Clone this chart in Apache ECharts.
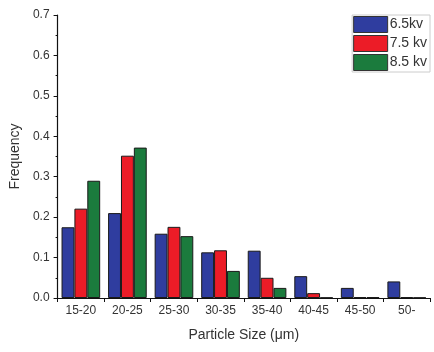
<!DOCTYPE html>
<html>
<head>
<meta charset="utf-8">
<script src="https://cdn.jsdelivr.net/npm/echarts@6/dist/echarts.min.js"></script>
<style>
html, body { margin: 0; padding: 0; background: #fff; }
#chart { width: 434px; height: 352px; }
</style>
</head>
<body>
<div id="chart"></div>
<script>
// particle size bins
var sizes = ['15-20', '20-25', '25-30', '30-35', '35-40', '40-45', '45-50', '50-'];
var kv65 = [0.175, 0.21, 0.159, 0.113, 0.117, 0.054, 0.025, 0.041];
var kv75 = [0.221, 0.352, 0.176, 0.118, 0.05, 0.012, 0.002, 0.002];
var kv85 = [0.29, 0.372, 0.153, 0.067, 0.025, 0.001, 0.002, 0.001];
var yTicks = [0, 0.1, 0.2, 0.3, 0.4, 0.5, 0.6, 0.7];

var chart = echarts.init(document.getElementById('chart'));
var font = 'Liberation Sans, Arial, sans-serif';

function bar(name, data, color) {
    return {
        name: name,
        type: 'bar',
        data: data,
        barGap: '0%',
        barCategoryGap: '17%',
        itemStyle: {
            color: color,
            borderColor: '#1a1a1a',
            borderWidth: 1
        }
    };
}

var option = {
    animation: false,
    textStyle: { fontFamily: font },
    grid: { left: 49, right: 4, top: 15, bottom: 54 },
    legend: {
        orient: 'vertical',
        right: 4,
        top: 15,
        itemWidth: 34,
        itemHeight: 16,
        itemGap: 2,
        padding: [1, 3, 1, 1],
        borderColor: '#ccc',
        borderWidth: 1,
        icon: 'rect',
        itemStyle: { borderWidth: 1, borderColor: '#333' },
        textStyle: { fontSize: 14, color: '#333', padding: [0, 0, 0, -3] },
        data: ['6.5kv', '7.5 kv', '8.5 kv']
    },
    xAxis: {
        type: 'category',
        data: sizes,
        name: 'Particle Size (\u03bcm)',
        nameLocation: 'middle',
        nameGap: 30,
        nameTextStyle: { fontSize: 14, color: '#333' },
        axisLine: { lineStyle: { color: '#111', width: 1.2 } },
        axisTick: { show: true, length: 4, lineStyle: { color: '#111' } },
        axisLabel: { fontSize: 12, color: '#333', margin: 7 }
    },
    yAxis: {
        type: 'value',
        min: yTicks[0],
        max: yTicks[yTicks.length - 1],
        interval: 0.1,
        name: 'Frequency',
        nameLocation: 'middle',
        nameGap: 34,
        nameTextStyle: { fontSize: 14, color: '#333' },
        axisLine: { show: true, lineStyle: { color: '#111', width: 1.2 } },
        axisTick: { show: true, length: 4, lineStyle: { color: '#111' } },
        minorTick: { show: true, splitNumber: 2, length: 2, lineStyle: { color: '#111' } },
        splitLine: { show: false },
        axisLabel: {
            fontSize: 12,
            color: '#333',
            margin: 8,
            formatter: function (v) { return v.toFixed(1); }
        }
    },
    series: [
        bar('6.5kv', kv65, '#2f3d9f'),
        bar('7.5 kv', kv75, '#ec1c27'),
        bar('8.5 kv', kv85, '#1b7b3d')
    ]
};

chart.setOption(option);
</script>
</body>
</html>
